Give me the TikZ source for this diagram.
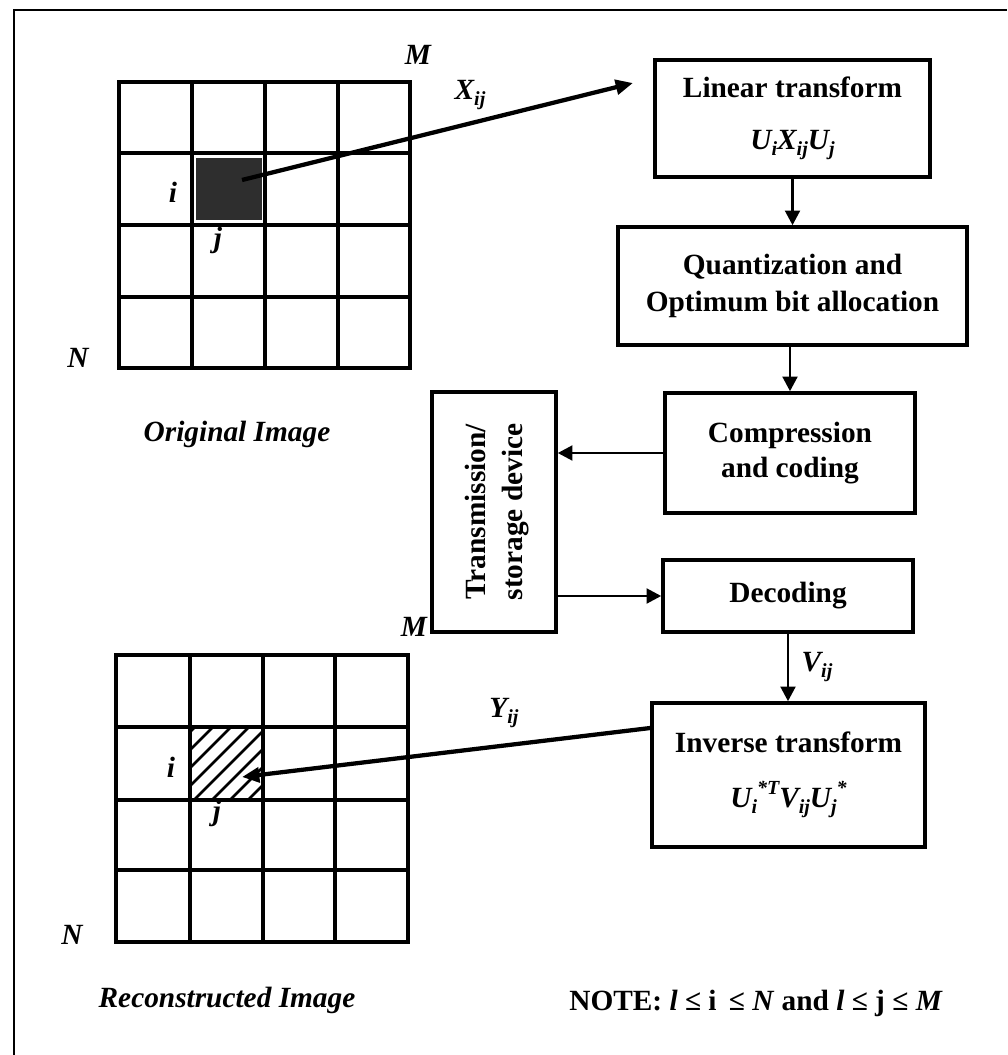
\documentclass[tikz,border=0pt]{standalone}
\usepackage{fontspec}
\setmainfont{Liberation Serif}
\usetikzlibrary{arrows.meta,calc}
\newcommand\lsub[1]{\raisebox{-0.45ex}{\fontsize{15}{15}\selectfont #1}}
\newcommand\lsup[1]{\raisebox{0.95ex}{\fontsize{15}{15}\selectfont #1}}
\begin{document}
\begin{tikzpicture}[x=0.75pt,y=-0.75pt,
  wh/.style 2 args={minimum width={#1*0.75pt},minimum height={#2*0.75pt}},
  box/.style={draw,line width=2.6pt,align=center,inner sep=0pt,font=\fontsize{22}{27}\selectfont\bfseries},
  lbl/.style={inner sep=0pt,font=\fontsize{22}{26}\selectfont\bfseries\itshape},
  txt/.style={inner sep=0pt,font=\fontsize{22}{26}\selectfont\bfseries},
  gridline/.style={line width=2.4pt,line cap=rect},
  conn/.style={line width=2.2pt,-{Triangle[length=11pt,width=11pt]}},
  bigconn/.style={line width=3.2pt,-{Triangle[length=13pt,width=11pt]}},
]
\useasboundingbox (0,0) rectangle (1007,1055);
\draw[line width=2.2pt] (14,1055) -- (14,10) -- (1007,10);

% original image grid
\fill[black!82] (196,158) rectangle (262,220);
\foreach \x in {119,192,265,338,410} \draw[gridline] (\x,82) -- (\x,368);
\foreach \y in {82,153,225,297,368} \draw[gridline] (119,\y) -- (410,\y);

% reconstructed image grid
\begin{scope}
  \clip (190,727) rectangle (263,800);
  \foreach \k in {0,...,8} \draw[line width=2pt] ({122+\k*18},800) -- ++(73,-73);
\end{scope}
\foreach \x in {116,190,263,335,408} \draw[gridline] (\x,655) -- (\x,942);
\foreach \y in {655,727,800,870,942} \draw[gridline] (116,\y) -- (408,\y);

% blocks
\node[box,wh={275}{117}] (lin) at (792.5,118.5)
  {Linear transform\\[12pt]\textit{U\lsub{i}X\lsub{ij}U\lsub{j}}};
\node[box,wh={349}{118},font=\fontsize{22}{28}\selectfont\bfseries] (quant) at (792.5,286)
  {Quantization and\\Optimum bit allocation};
\node[box,wh={250}{120},font=\fontsize{22}{26}\selectfont\bfseries] (comp) at (790,453)
  {Compression\\and coding};
\node[box,wh={124}{240}] (trans) at (494,512) {};
\node[txt,rotate=90,align=center,font=\fontsize{22}{28}\selectfont\bfseries] (transtxt) at ([xshift=2.5pt]trans.center)
  {Transmission/\\storage device};
\node[box,wh={250}{72}] (dec) at (788,596) {Decoding};
\node[box,wh={273}{144}] (inv) at (788.5,775)
  {Inverse transform\\[14pt]\textit{U\lsub{i}\lsup{*T}V\lsub{ij}U\lsub{j}\lsup{*}}};

% connectors
\coordinate (xs) at (242,180);
\coordinate (xe) at (633,83);
\draw[bigconn] (xs) -- (xe);
\draw[conn] (lin.south) -- (lin.south |- quant.north);
\draw[conn] (quant.south -| comp.north) -- (comp.north);
\draw[conn] (comp.west) -- (trans.east |- comp.west);
\draw[conn] (trans.east |- dec.west) -- (dec.west);
\draw[conn] (dec.south) -- (dec.south |- inv.north);
\coordinate (ys) at ($(inv.west)+(0,-47)$);
\coordinate (yt) at (242,777);
\draw[bigconn] (ys) -- (yt);

% labels
\node[lbl] (Mt) at (418,55) {M};
\node[lbl] (Nt) at (78,358) {N};
\node[lbl] (it) at (173,192) {i};
\node[lbl] (jt) at (218,240) {j};
\node[lbl] (xl) at (470,95) {X\lsub{ij}};
\node[lbl] (orig) at (237,434) {Original Image};
\node[lbl] (Mb) at (414,627) {M};
\node[lbl] (Nb) at (72,935) {N};
\node[lbl] (ib) at (171,767) {i};
\node[lbl] (jb) at (217,813) {j};
\node[lbl] (yl) at (504,713) {Y\lsub{ij}};
\node[lbl] (vl) at (817,667) {V\lsub{ij}};
\node[lbl] (rec) at (227,1000) {Reconstructed Image};
\node[txt] (note) at (756,1003) {NOTE: \textit{l} ≤ i\, ≤ \textit{N} and \textit{l} ≤ j ≤ \textit{M}};
\end{tikzpicture}
\end{document}
